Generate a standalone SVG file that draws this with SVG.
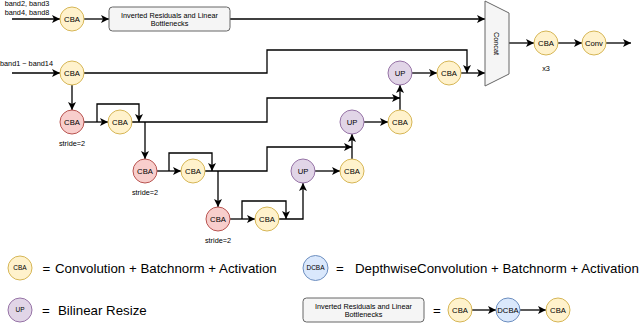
<svg xmlns="http://www.w3.org/2000/svg" width="640" height="323" viewBox="0 0 640 323">
<defs>
<marker id="arr" markerUnits="userSpaceOnUse" markerWidth="9" markerHeight="8" refX="8" refY="4" orient="auto">
<path d="M0,0 L8,4 L0,8 L2,4 Z" fill="#000"/>
</marker>
<style>
text{font-family:"Liberation Sans",Arial,sans-serif;fill:#000}
.cba{fill:#fff2cc;stroke:#d6b656;stroke-width:1}
.red{fill:#f8cecc;stroke:#b85450;stroke-width:1}
.up{fill:#e1d5e7;stroke:#9673a6;stroke-width:1}
.dc{fill:#dae8fc;stroke:#6c8ebf;stroke-width:1}
.box{fill:#f5f5f5;stroke:#666666;stroke-width:1}
.lbl{font-size:7.7px;text-anchor:middle}
.sm{font-size:7.3px}
.mid{text-anchor:middle}
.leg{font-size:13.3px}
.c path{fill:none;stroke:#000;stroke-width:1.3}
.c .a{marker-end:url(#arr)}
</style>
</defs>
<rect width="640" height="323" fill="#fff"/>

<text class="sm" x="27" y="5.5" text-anchor="middle">band2, band3</text>
<text class="sm" x="27" y="14.5" text-anchor="middle">band4, band8</text>
<text class="sm" x="0" y="65.5">band1 ~ band14</text>

<g class="c" id="connectors">
<path class="a" d="M12,19 H60"/>
<path class="a" d="M84,19 H109"/>
<path class="a" d="M230,19 H485"/>
<path class="a" d="M12,73 H60"/>
<path class="a" d="M84,73 H267 V50 H467 V73"/>
<path class="a" d="M72,85 V110"/>
<path class="a" d="M84,122 H108"/>
<path class="a" d="M97,122 V104 H139 V122"/>
<path class="a" d="M132,122 H267 V98 H400"/>
<path class="a" d="M145,122 V159"/>
<path class="a" d="M157,171 H181"/>
<path class="a" d="M169,171 V153 H212 V171"/>
<path class="a" d="M205,171 H267 V147 H352"/>
<path class="a" d="M218,171 V207"/>
<path class="a" d="M230,219 H255"/>
<path class="a" d="M242,219 V201 H286 V219"/>
<path class="a" d="M279,219 H303 V183"/>
<path class="a" d="M315,171 H340"/>
<path class="a" d="M352,159 V134"/>
<path class="a" d="M364,122 H388"/>
<path class="a" d="M400,110 V85"/>
<path class="a" d="M412,73 H437"/>
<path class="a" d="M461,73 H485"/>
<path class="a" d="M509,43 H534"/>
<path class="a" d="M558,43 H582"/>
<path class="a" d="M606,43 H631"/>
<path class="a" d="M472,310 H496"/>
<path class="a" d="M520,310 H546"/>
</g>

<g id="in1"><circle class="cba" cx="72" cy="19" r="12"/><text class="lbl" x="72" y="21.8">CBA</text></g>
<g id="irlb"><rect class="box" x="109" y="7" width="121" height="24" rx="3.5"/>
<text class="sm mid" x="169.5" y="17.5" fill="#333">Inverted Residuals and Linear</text>
<text class="sm mid" x="169.5" y="26" fill="#333">Bottlenecks</text></g>
<g id="in2"><circle class="cba" cx="72" cy="73" r="12"/><text class="lbl" x="72" y="75.8">CBA</text></g>

<g id="r1"><circle class="red" cx="72" cy="122" r="12"/><text class="lbl" x="72" y="124.8">CBA</text><text class="sm mid" x="72" y="145.5">stride=2</text></g>
<g id="y1"><circle class="cba" cx="120" cy="122" r="12"/><text class="lbl" x="120" y="124.8">CBA</text></g>
<g id="r2"><circle class="red" cx="145" cy="171" r="12"/><text class="lbl" x="145" y="173.8">CBA</text><text class="sm mid" x="145" y="194.5">stride=2</text></g>
<g id="y2"><circle class="cba" cx="193" cy="171" r="12"/><text class="lbl" x="193" y="173.8">CBA</text></g>
<g id="r3"><circle class="red" cx="218" cy="219" r="12"/><text class="lbl" x="218" y="221.8">CBA</text><text class="sm mid" x="218" y="243">stride=2</text></g>
<g id="y3"><circle class="cba" cx="267" cy="219" r="12"/><text class="lbl" x="267" y="221.8">CBA</text></g>

<g id="up3"><circle class="up" cx="303" cy="171" r="12"/><text class="lbl" x="303" y="173.8">UP</text></g>
<g id="c3"><circle class="cba" cx="352" cy="171" r="12"/><text class="lbl" x="352" y="173.8">CBA</text></g>
<g id="up2"><circle class="up" cx="352" cy="122" r="12"/><text class="lbl" x="352" y="124.8">UP</text></g>
<g id="c2"><circle class="cba" cx="400" cy="122" r="12"/><text class="lbl" x="400" y="124.8">CBA</text></g>
<g id="up1"><circle class="up" cx="400" cy="73" r="12"/><text class="lbl" x="400" y="75.8">UP</text></g>
<g id="c1"><circle class="cba" cx="449" cy="73" r="12"/><text class="lbl" x="449" y="75.8">CBA</text></g>

<g id="concat"><polygon class="box" points="485,1 509,13 509,74 485,86"/>
<text class="sm mid" transform="translate(497,43.5) rotate(90)" x="0" y="2.6">Concat</text></g>
<g id="cf"><circle class="cba" cx="546" cy="43" r="12"/><text class="lbl" x="546" y="45.8">CBA</text><text class="sm mid" x="546" y="70.5">x3</text></g>
<g id="conv"><circle class="cba" cx="594" cy="43" r="12"/><text class="lbl" x="594" y="45.8">Conv</text></g>

<g id="leg-cba"><circle class="cba" cx="20" cy="268" r="12"/><text class="mid" style="font-size:6.5px" x="20" y="270.3">CBA</text>
<text class="leg mid" x="46.5" y="272.5">=</text>
<text class="leg" x="55" y="273">Convolution + Batchnorm + Activation</text></g>
<g id="leg-up"><circle class="up" cx="20" cy="310" r="12"/><text class="mid" style="font-size:6.5px" x="20" y="312.3">UP</text>
<text class="leg mid" x="46" y="314.5">=</text>
<text class="leg" x="58" y="315">Bilinear Resize</text></g>
<g id="leg-dcba"><circle class="dc" cx="315.5" cy="268" r="12.5"/><text class="mid" style="font-size:6.5px" x="315.5" y="270.3">DCBA</text>
<text class="leg mid" x="340" y="272.5">=</text>
<text class="leg" x="355" y="273">DepthwiseConvolution + Batchnorm + Activation</text></g>
<g id="leg-irlb"><rect class="box" x="303" y="298" width="121" height="24" rx="3.5"/>
<text class="sm mid" x="363.5" y="308.5" fill="#333">Inverted Residuals and Linear</text>
<text class="sm mid" x="363.5" y="317" fill="#333">Bottlenecks</text>
<text class="leg mid" x="437" y="314.5">=</text></g>
<g id="leg-c1"><circle class="cba" cx="460" cy="310" r="12"/><text class="lbl" x="460" y="312.8">CBA</text></g>
<g id="leg-d"><circle class="dc" cx="508" cy="310" r="12"/><text class="lbl" x="508" y="312.8">DCBA</text></g>
<g id="leg-c2"><circle class="cba" cx="558" cy="310" r="12"/><text class="lbl" x="558" y="312.8">CBA</text></g>
</svg>
